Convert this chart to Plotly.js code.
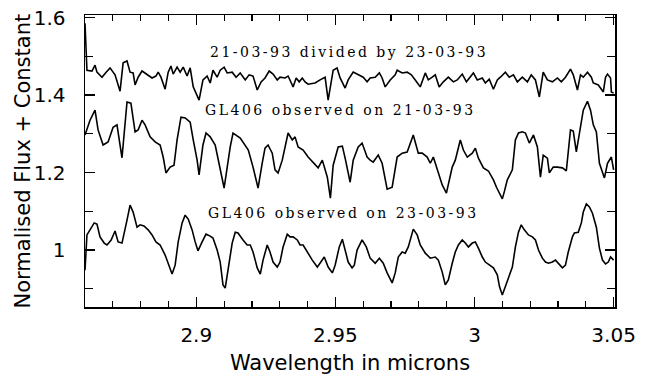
<!DOCTYPE html>
<html>
<head>
<meta charset="utf-8">
<script src="https://cdn.plot.ly/plotly-3.0.1.min.js"></script>
<style>
  html, body { margin: 0; padding: 0; background: #fff; }
  #chart { width: 652px; height: 382px; }
  .annotation-text { letter-spacing: 2.5px; }
</style>
</head>
<body>
<div id="chart"></div>
<script>
// Ratio spectrum: 21-03-93 divided by 23-03-93
const ratioWave = [2.8600,2.8607,2.8625,2.8636,2.8643,2.8661,2.8676,2.8690,2.8708,2.8726,2.8737,2.8751,2.8762,2.8773,2.8780,2.8791,2.8805,2.8823,2.8841,2.8855,2.8863,2.8873,2.8888,2.8899,2.8909,2.8917,2.8931,2.8942,2.8953,2.8967,2.8978,2.8989,2.9010,2.9024,2.9039,2.9050,2.9060,2.9075,2.9086,2.9100,2.9111,2.9129,2.9143,2.9158,2.9176,2.9190,2.9204,2.9219,2.9233,2.9247,2.9262,2.9276,2.9291,2.9301,2.9319,2.9330,2.9345,2.9348,2.9359,2.9370,2.9381,2.9391,2.9402,2.9427,2.9445,2.9463,2.9474,2.9492,2.9506,2.9517,2.9535,2.9546,2.9564,2.9582,2.9600,2.9614,2.9625,2.9643,2.9658,2.9668,2.9679,2.9697,2.9715,2.9722,2.9740,2.9758,2.9773,2.9787,2.9805,2.9823,2.9834,2.9848,2.9859,2.9873,2.9888,2.9906,2.9924,2.9938,2.9956,2.9971,2.9985,2.9996,3.0010,3.0028,3.0039,3.0053,3.0068,3.0082,3.0093,3.0111,3.0125,3.0140,3.0154,3.0172,3.0190,3.0204,3.0219,3.0233,3.0247,3.0262,3.0280,3.0298,3.0312,3.0327,3.0345,3.0355,3.0370,3.0381,3.0391,3.0406,3.0420,3.0427,3.0445,3.0463,3.0471,3.0478,3.0489,3.0492,3.0500];
const ratioFlux = [1.585,1.464,1.462,1.477,1.459,1.446,1.459,1.470,1.452,1.410,1.483,1.488,1.459,1.457,1.426,1.446,1.462,1.452,1.444,1.449,1.459,1.446,1.415,1.459,1.475,1.454,1.472,1.459,1.472,1.449,1.470,1.421,1.387,1.439,1.449,1.431,1.464,1.446,1.464,1.472,1.457,1.459,1.446,1.457,1.439,1.452,1.449,1.413,1.434,1.444,1.462,1.454,1.439,1.446,1.444,1.449,1.426,1.421,1.444,1.434,1.444,1.434,1.428,1.431,1.439,1.446,1.387,1.464,1.470,1.444,1.418,1.439,1.459,1.452,1.446,1.434,1.444,1.446,1.457,1.444,1.421,1.439,1.452,1.464,1.457,1.459,1.452,1.439,1.421,1.457,1.439,1.446,1.452,1.421,1.434,1.446,1.434,1.439,1.454,1.434,1.446,1.457,1.439,1.444,1.431,1.441,1.415,1.439,1.446,1.459,1.446,1.452,1.434,1.446,1.434,1.452,1.439,1.395,1.459,1.439,1.434,1.444,1.434,1.446,1.467,1.452,1.413,1.452,1.446,1.459,1.446,1.431,1.426,1.408,1.446,1.454,1.444,1.408,1.405];

// GL406 observed on 21-03-93 (offset)
const obs21Wave = [2.8600,2.8618,2.8636,2.8647,2.8665,2.8683,2.8701,2.8715,2.8733,2.8744,2.8751,2.8765,2.8780,2.8791,2.8805,2.8816,2.8834,2.8852,2.8870,2.8881,2.8891,2.8906,2.8920,2.8931,2.8945,2.8960,2.8978,2.8989,2.9003,2.9010,2.9024,2.9035,2.9050,2.9068,2.9082,2.9100,2.9122,2.9132,2.9158,2.9176,2.9187,2.9204,2.9222,2.9237,2.9247,2.9258,2.9273,2.9283,2.9294,2.9309,2.9323,2.9330,2.9345,2.9355,2.9366,2.9384,2.9402,2.9420,2.9438,2.9453,2.9471,2.9482,2.9492,2.9510,2.9525,2.9535,2.9553,2.9564,2.9582,2.9596,2.9614,2.9625,2.9636,2.9654,2.9668,2.9686,2.9704,2.9722,2.9740,2.9758,2.9780,2.9798,2.9812,2.9830,2.9841,2.9852,2.9870,2.9884,2.9899,2.9920,2.9931,2.9949,2.9960,2.9974,2.9992,3.0003,3.0014,3.0032,3.0050,3.0068,3.0079,3.0090,3.0100,3.0107,3.0118,3.0136,3.0147,3.0158,3.0172,3.0183,3.0197,3.0212,3.0226,3.0237,3.0247,3.0262,3.0269,3.0283,3.0298,3.0316,3.0330,3.0345,3.0355,3.0366,3.0381,3.0391,3.0406,3.0417,3.0427,3.0438,3.0449,3.0467,3.0478,3.0492,3.0500];
const obs21Flux = [1.297,1.335,1.361,1.310,1.271,1.279,1.317,1.323,1.238,1.335,1.382,1.379,1.305,1.310,1.335,1.323,1.292,1.279,1.271,1.240,1.199,1.214,1.219,1.284,1.343,1.341,1.330,1.284,1.232,1.194,1.271,1.302,1.292,1.271,1.219,1.160,1.266,1.302,1.289,1.271,1.258,1.214,1.160,1.224,1.263,1.271,1.250,1.207,1.199,1.232,1.284,1.302,1.284,1.292,1.266,1.258,1.240,1.227,1.212,1.232,1.188,1.134,1.219,1.266,1.268,1.237,1.175,1.232,1.266,1.276,1.240,1.232,1.227,1.245,1.224,1.157,1.162,1.240,1.250,1.253,1.297,1.250,1.250,1.240,1.224,1.240,1.199,1.168,1.147,1.214,1.232,1.284,1.258,1.240,1.250,1.263,1.237,1.212,1.204,1.181,1.162,1.147,1.132,1.150,1.181,1.207,1.284,1.302,1.305,1.302,1.276,1.297,1.266,1.188,1.245,1.237,1.199,1.214,1.214,1.212,1.204,1.310,1.307,1.253,1.317,1.361,1.384,1.361,1.323,1.305,1.224,1.186,1.224,1.240,1.207];

// GL406 observed on 23-03-93
const obs23Wave = [2.8600,2.8607,2.8618,2.8633,2.8643,2.8654,2.8669,2.8679,2.8694,2.8708,2.8719,2.8733,2.8751,2.8762,2.8773,2.8787,2.8798,2.8812,2.8827,2.8841,2.8855,2.8870,2.8888,2.8899,2.8913,2.8924,2.8935,2.8949,2.8960,2.8971,2.8985,2.8996,2.9006,2.9021,2.9035,2.9050,2.9060,2.9075,2.9086,2.9096,2.9104,2.9114,2.9129,2.9140,2.9150,2.9168,2.9183,2.9194,2.9204,2.9219,2.9230,2.9240,2.9255,2.9265,2.9276,2.9291,2.9301,2.9312,2.9327,2.9337,2.9348,2.9363,2.9373,2.9384,2.9399,2.9417,2.9435,2.9445,2.9460,2.9474,2.9489,2.9499,2.9514,2.9525,2.9535,2.9546,2.9560,2.9568,2.9578,2.9596,2.9611,2.9625,2.9643,2.9658,2.9672,2.9686,2.9704,2.9715,2.9726,2.9740,2.9751,2.9762,2.9780,2.9794,2.9805,2.9823,2.9841,2.9859,2.9870,2.9884,2.9895,2.9906,2.9920,2.9931,2.9942,2.9956,2.9967,2.9978,2.9992,3.0003,3.0014,3.0028,3.0039,3.0053,3.0068,3.0082,3.0090,3.0100,3.0111,3.0125,3.0136,3.0147,3.0158,3.0168,3.0179,3.0194,3.0208,3.0219,3.0230,3.0244,3.0255,3.0266,3.0280,3.0291,3.0301,3.0316,3.0327,3.0337,3.0352,3.0359,3.0373,3.0384,3.0391,3.0402,3.0413,3.0424,3.0438,3.0449,3.0460,3.0471,3.0481,3.0489,3.0500];
const obs23Flux = [0.948,1.039,1.052,1.070,1.067,1.034,1.018,1.013,1.026,1.049,1.021,1.018,1.077,1.116,1.098,1.059,1.065,1.062,1.052,1.039,1.021,1.013,0.987,0.966,0.938,0.961,1.021,1.070,1.090,1.080,1.052,1.021,0.998,1.021,1.041,1.036,1.031,1.000,0.969,0.910,0.902,0.948,1.018,1.046,1.044,1.026,1.013,1.013,0.995,0.954,0.938,0.974,1.013,0.995,0.969,0.956,0.969,1.008,1.041,1.034,1.034,1.026,1.013,1.013,0.995,0.974,0.956,0.966,0.982,0.956,0.941,0.961,1.008,1.028,1.000,0.969,0.954,0.961,1.000,1.026,1.008,0.979,0.966,0.979,0.966,0.941,0.915,0.941,0.982,0.995,0.992,1.008,1.054,1.039,1.013,0.992,0.979,0.982,0.974,0.943,0.910,0.923,0.966,0.995,1.013,1.026,1.018,1.008,1.018,1.021,1.005,0.982,0.969,0.961,0.954,0.936,0.905,0.884,0.905,0.930,0.956,1.008,1.046,1.065,1.052,1.039,1.034,1.026,1.000,0.979,0.969,0.966,0.969,0.974,0.966,0.954,0.961,0.995,1.034,1.044,1.046,1.070,1.098,1.119,1.111,1.095,1.059,1.005,0.974,0.964,0.969,0.982,0.974];

const labelText = ["21-03-93 divided by 23-03-93", "GL406 observed on 21-03-93", "GL406 observed on 23-03-93"];
const labelX = [2.955, 2.952, 2.953];
const labelY = [1.511, 1.361, 1.096];
const xTitle = "Wavelength in microns";
const yTitle = "Normalised Flux + Constant";

const lineStyle = {color: "#000", width: 1.6};
const traces = [
  {x: ratioWave, y: ratioFlux, type: "scatter", mode: "lines", line: lineStyle, hoverinfo: "skip"},
  {x: obs21Wave, y: obs21Flux, type: "scatter", mode: "lines", line: lineStyle, hoverinfo: "skip"},
  {x: obs23Wave, y: obs23Flux, type: "scatter", mode: "lines", line: lineStyle, hoverinfo: "skip"}
];

const tickFont = {family: "DejaVu Sans, sans-serif", size: 20, color: "#000"};
const titleFont = {family: "DejaVu Sans, sans-serif", size: 21, color: "#000"};

const annotations = labelText.map((t, i) => ({
  x: labelX[i], y: labelY[i], xref: "x", yref: "y",
  text: t, showarrow: false, xanchor: "center", yanchor: "middle",
  font: {family: "DejaVu Serif, serif", size: 14, color: "#000"}
}));
annotations.push({
  x: -0.117, y: 0.5, xref: "paper", yref: "paper",
  text: yTitle, showarrow: false, textangle: -90,
  xanchor: "center", yanchor: "middle", font: titleFont,
  name: "ytitle"
});

const layout = {
  width: 652, height: 382,
  margin: {l: 85, r: 37, t: 15, b: 75},
  paper_bgcolor: "#fff", plot_bgcolor: "#fff",
  showlegend: false,
  xaxis: {
    range: [2.86, 3.0505],
    showgrid: false, zeroline: false,
    showline: true, linecolor: "#000", linewidth: 1.5, mirror: "ticks",
    ticks: "inside", ticklen: 10, tickwidth: 1.3, tickcolor: "#000",
    tick0: 0, dtick: 0.05,
    minor: {ticks: "inside", ticklen: 6, tickwidth: 1.2, tickcolor: "#000", dtick: 0.01, tick0: 0, showgrid: false},
    tickfont: tickFont,
    ticklabelstandoff: 9,
    title: {text: xTitle, font: titleFont, standoff: 10},
    automargin: false
  },
  yaxis: {
    range: [0.853, 1.6065],
    showgrid: false, zeroline: false,
    showline: true, linecolor: "#000", linewidth: 1.5, mirror: "ticks",
    ticks: "inside", ticklen: 10, tickwidth: 1.3, tickcolor: "#000",
    tick0: 0, dtick: 0.2,
    minor: {ticks: "inside", ticklen: 8, tickwidth: 1.2, tickcolor: "#000", dtick: 0.1, tick0: 0, showgrid: false},
    tickfont: tickFont,
    ticklabelstandoff: 14,
    automargin: false
  },
  annotations: annotations
};

Plotly.newPlot("chart", traces, layout, {displayModeBar: false, staticPlot: true}).then(() => {
  // keep normal spacing for the axis-title annotation
  const nodes = document.querySelectorAll(".annotation-text");
  nodes[nodes.length - 1].style.letterSpacing = "0px";
});
</script>
</body>
</html>
